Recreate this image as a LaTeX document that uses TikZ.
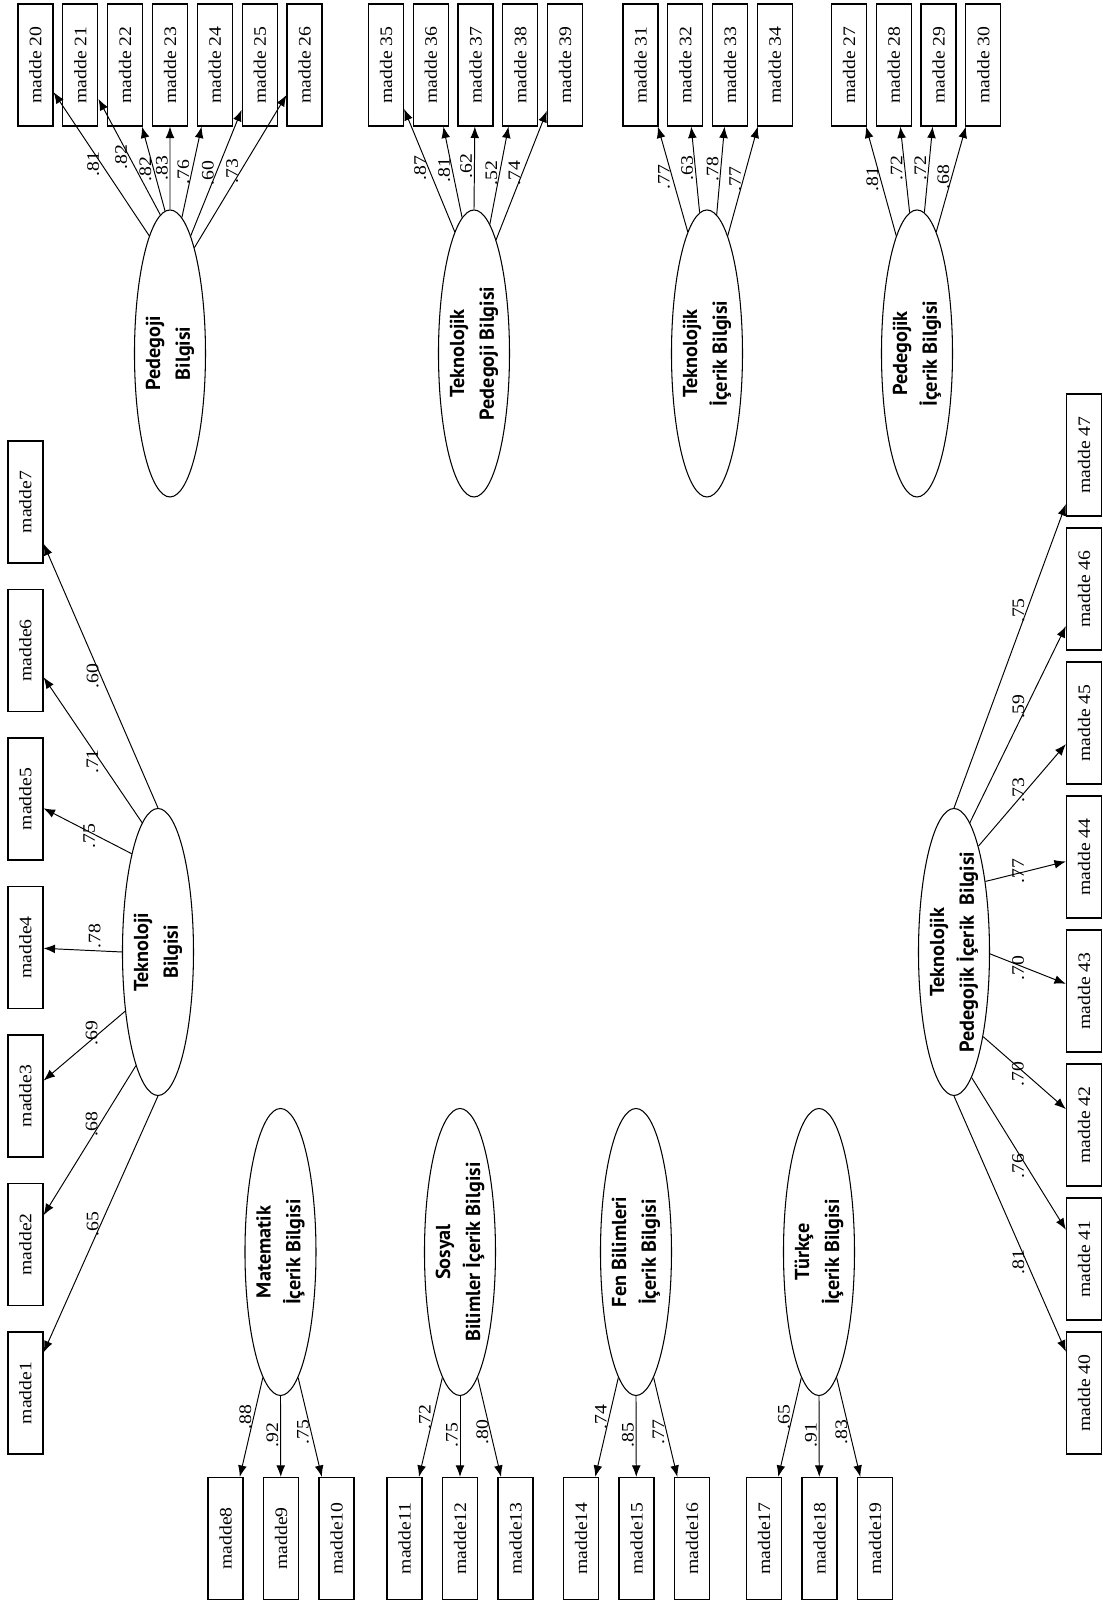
\documentclass[tikz,border=0pt]{standalone}
\usepackage{fontspec}
\setmainfont[FakeStretch=1.12]{Liberation Serif}
\newfontfamily\latentfont{PT Sans}
\usepackage{tikz}
\usetikzlibrary{shapes,arrows.meta,positioning}
\tikzstyle{item} = [draw, rectangle, line width=0.7pt, minimum width=2.44cm, minimum height=0.7cm, inner sep=0pt, font=\fontsize{10}{12}\selectfont]
\tikzstyle{latent} = [draw, ellipse, line width=0.6pt, minimum width=5.74cm, minimum height=1.42cm, inner sep=0pt, align=center, font=\latentfont\bfseries\fontsize{11.5}{17}\selectfont]
\tikzstyle{wt} = [above, inner sep=1pt, font=\fontsize{10}{12}\selectfont]

\begin{document}
\begin{tikzpicture}[rotate=90, transform shape, >={Latex[length=6.5pt,width=5pt]}, line width=0.55pt]
    \useasboundingbox (0,0) rectangle (32.14,22.04);

    % Teknoloji Bilgisi
    \node [latent] (tb) at (13.1,18.88) {Teknoloji\\Bilgisi};
    \node [item] (m1) at (4.28,21.53) {madde1};
    \node [item, right of=m1, node distance=2.97cm] (m2) {madde2};
    \node [item, right of=m2, node distance=2.97cm] (m3) {madde3};
    \node [item, right of=m3, node distance=2.97cm] (m4) {madde4};
    \node [item, right of=m4, node distance=2.97cm] (m5) {madde5};
    \node [item, right of=m5, node distance=2.97cm] (m6) {madde6};
    \node [item, right of=m6, node distance=2.97cm] (m7) {madde7};

    % Teknolojik Pedegojik Icerik Bilgisi
    \node [latent] (tpib) at (13.1,2.96) {Teknolojik\\Pedegojik İçerik\ \ Bilgisi};
    \node [item] (m40) at (4.28,0.36) {madde 40};
    \node [item, right of=m40, node distance=2.68cm] (m41) {madde 41};
    \node [item, right of=m41, node distance=2.68cm] (m42) {madde 42};
    \node [item, right of=m42, node distance=2.68cm] (m43) {madde 43};
    \node [item, right of=m43, node distance=2.68cm] (m44) {madde 44};
    \node [item, right of=m44, node distance=2.68cm] (m45) {madde 45};
    \node [item, right of=m45, node distance=2.68cm] (m46) {madde 46};
    \node [item, right of=m46, node distance=2.68cm] (m47) {madde 47};

    % Icerik bilgisi (left)
    \node [latent] (mib) at (7.1,16.43) {Matematik\\İçerik Bilgisi};
    \node [item] (m8) at (1.37,17.53) {madde8};
    \node [item, below of=m8, node distance=1.11cm] (m9) {madde9};
    \node [item, below of=m9, node distance=1.11cm] (m10) {madde10};

    \node [latent] (sbib) at (7.1,12.84) {Sosyal\\Bilimler İçerik Bilgisi};
    \node [item] (m11) at (1.37,13.95) {madde11};
    \node [item, below of=m11, node distance=1.11cm] (m12) {madde12};
    \node [item, below of=m12, node distance=1.11cm] (m13) {madde13};

    \node [latent] (fbib) at (7.1,9.32) {Fen Bilimleri\\İçerik Bilgisi};
    \node [item] (m14) at (1.37,10.42) {madde14};
    \node [item, below of=m14, node distance=1.11cm] (m15) {madde15};
    \node [item, below of=m15, node distance=1.11cm] (m16) {madde16};

    \node [latent] (tuib) at (7.1,5.66) {Türkçe\\İçerik Bilgisi};
    \node [item] (m17) at (1.37,6.76) {madde17};
    \node [item, below of=m17, node distance=1.11cm] (m18) {madde18};
    \node [item, below of=m18, node distance=1.11cm] (m19) {madde19};

    % Pedegoji / teknoloji (right)
    \node [latent] (pb) at (25.07,18.64) {Pedegoji\\Bilgisi};
    \node [item] (m20) at (30.84,21.33) {madde 20};
    \node [item, below of=m20, node distance=0.897cm] (m21) {madde 21};
    \node [item, below of=m21, node distance=0.897cm] (m22) {madde 22};
    \node [item, below of=m22, node distance=0.897cm] (m23) {madde 23};
    \node [item, below of=m23, node distance=0.897cm] (m24) {madde 24};
    \node [item, below of=m24, node distance=0.897cm] (m25) {madde 25};
    \node [item, below of=m25, node distance=0.897cm] (m26) {madde 26};

    \node [latent] (tpb) at (25.07,12.56) {Teknolojik\\Pedegoji Bilgisi};
    \node [item] (m35) at (30.84,14.32) {madde 35};
    \node [item, below of=m35, node distance=0.895cm] (m36) {madde 36};
    \node [item, below of=m36, node distance=0.895cm] (m37) {madde 37};
    \node [item, below of=m37, node distance=0.895cm] (m38) {madde 38};
    \node [item, below of=m38, node distance=0.895cm] (m39) {madde 39};

    \node [latent] (tib) at (25.07,7.9) {Teknolojik\\İçerik Bilgisi};
    \node [item] (m31) at (30.84,9.23) {madde 31};
    \node [item, below of=m31, node distance=0.895cm] (m32) {madde 32};
    \node [item, below of=m32, node distance=0.895cm] (m33) {madde 33};
    \node [item, below of=m33, node distance=0.895cm] (m34) {madde 34};

    \node [latent] (pib) at (25.07,3.7) {Pedegojik\\İçerik Bilgisi};
    \node [item] (m27) at (30.84,5.06) {madde 27};
    \node [item, below of=m27, node distance=0.895cm] (m28) {madde 28};
    \node [item, below of=m28, node distance=0.895cm] (m29) {madde 29};
    \node [item, below of=m29, node distance=0.895cm] (m30) {madde 30};

    % Loadings
    \draw [->] (tb.180) -- node [wt, pos=0.5] {.65} (m1);
    \draw [->] (tb.169) -- node [wt, pos=0.39] {.68} (m2);
    \draw [->] (tb.151) -- node [wt, pos=0.31] {.69} (m3);
    \draw [->] (tb.90) -- node [wt, right, pos=0.35] {.78} (m4);
    \draw [->] (tb.15) -- node [wt, pos=0.39] {.75} (m5);
    \draw [->] (tb.7) -- node [wt, pos=0.42] {.71} (m6);
    \draw [->] (tb.0) -- node [wt, pos=0.5] {.60} (m7);

    \draw [->] (tpib.180) -- node [wt, pos=0.65] {.81} (m40);
    \draw [->] (tpib.188) -- node [wt, pos=0.58] {.76} (m41);
    \draw [->] (tpib.199) -- node [wt, pos=0.52] {.70} (m42);
    \draw [->] (tpib.267) -- node [wt, pos=0.48] {.70} (m43);
    \draw [->] (tpib.336) -- node [wt, pos=0.51] {.77} (m44);
    \draw [->] (tpib.347) -- node [wt, pos=0.55] {.73} (m45);
    \draw [->] (tpib.353) -- node [wt, pos=0.59] {.59} (m46);
    \draw [->] (tpib.0) -- node [wt, pos=0.65] {.75} (m47);

    \draw [->] (mib.172) -- node [wt, pos=0.4] {.88} (m8);
    \draw [->] (mib.180) -- node [wt, pos=0.48] {.92} (m9);
    \draw [->] (mib.188) -- node [wt, pos=0.55] {.75} (m10);
    \draw [->] (sbib.172) -- node [wt, pos=0.4] {.72} (m11);
    \draw [->] (sbib.180) -- node [wt, pos=0.48] {.75} (m12);
    \draw [->] (sbib.188) -- node [wt, pos=0.55] {.80} (m13);
    \draw [->] (fbib.172) -- node [wt, pos=0.4] {.74} (m14);
    \draw [->] (fbib.180) -- node [wt, pos=0.48] {.85} (m15);
    \draw [->] (fbib.188) -- node [wt, pos=0.55] {.77} (m16);
    \draw [->] (tuib.172) -- node [wt, pos=0.4] {.65} (m17);
    \draw [->] (tuib.180) -- node [wt, pos=0.48] {.91} (m18);
    \draw [->] (tuib.188) -- node [wt, pos=0.55] {.83} (m19);

    \draw [->] (pb.10) -- node [wt, pos=0.5] {.81} (m20);
    \draw [->] (pb.4) -- node [wt, pos=0.5] {.82} (m21);
    \draw [->] (pb.2) -- node [wt, pos=0.5] {.82} (m22);
    \draw [->] (pb.0) -- node [wt, pos=0.5] {.83} (m23);
    \draw [->] (pb.355) -- node [wt, pos=0.5] {.76} (m24);
    \draw [->] (pb.350) -- node [wt, pos=0.5] {.60} (m25);
    \draw [->] (pb.347) -- node [wt, pos=0.5] {.73} (m26);

    \draw [->] (tpb.9) -- node [wt, pos=0.52] {.87} (m35);
    \draw [->] (tpb.5) -- node [wt, pos=0.52] {.81} (m36);
    \draw [->] (tpb.0) -- node [wt, pos=0.52] {.62} (m37);
    \draw [->] (tpb.353) -- node [wt, pos=0.52] {.52} (m38);
    \draw [->] (tpb.349) -- node [wt, pos=0.52] {.74} (m39);

    \draw [->] (tib.9) -- node [wt, pos=0.52] {.77} (m31);
    \draw [->] (tib.3) -- node [wt, pos=0.52] {.63} (m32);
    \draw [->] (tib.356) -- node [wt, pos=0.52] {.78} (m33);
    \draw [->] (tib.350) -- node [wt, pos=0.52] {.77} (m34);

    \draw [->] (pib.10) -- node [wt, pos=0.52] {.81} (m27);
    \draw [->] (pib.3) -- node [wt, pos=0.52] {.72} (m28);
    \draw [->] (pib.357) -- node [wt, pos=0.52] {.72} (m29);
    \draw [->] (pib.351) -- node [wt, pos=0.52] {.68} (m30);
\end{tikzpicture}
\end{document}
